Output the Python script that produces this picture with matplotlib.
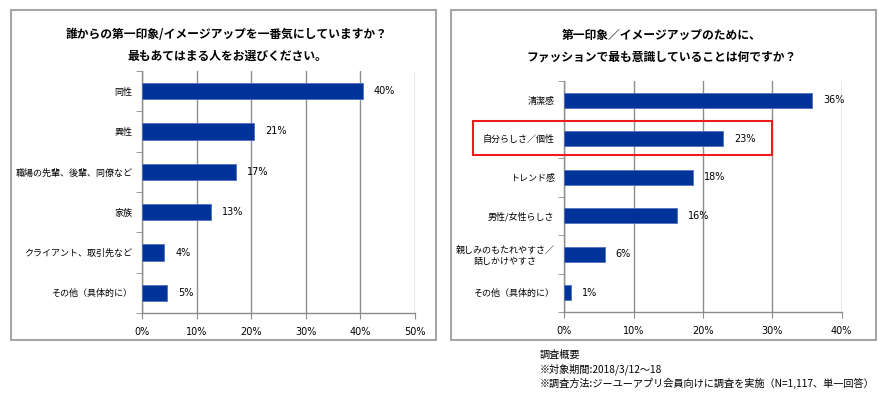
import matplotlib
matplotlib.use("Agg")
import matplotlib.pyplot as plt
from matplotlib.patches import Rectangle

plt.rcParams['font.family'] = ['Noto Sans CJK JP', 'DejaVu Sans']

# ---------------- data ----------------
left_title = "誰からの第一印象/イメージアップを一番気にしていますか？\n最もあてはまる人をお選びください。"
left_categories = ["同性", "異性", "職場の先輩、後輩、同僚など", "家族", "クライアント、取引先など", "その他（具体的に）"]
left_values = [40.4, 20.6, 17.2, 12.6, 4.1, 4.6]
left_labels = ["40%", "21%", "17%", "13%", "4%", "5%"]
left_ticks = [0, 10, 20, 30, 40, 50]

right_title = "第一印象／イメージアップのために、\nファッションで最も意識していることは何ですか？"
right_categories = ["清潔感", "自分らしさ／個性", "トレンド感", "男性/女性らしさ", "親しみのもたれやすさ／\n話しかけやすさ", "その他（具体的に）"]
right_values = [35.7, 22.9, 18.5, 16.2, 5.8, 0.9]
right_labels = ["36%", "23%", "18%", "16%", "6%", "1%"]
right_ticks = [0, 10, 20, 30, 40]

footer_lines = ["調査概要", "※対象期間:2018/3/12～18", "※調査方法:ジーユーアプリ会員向けに調査を実施（N=1,117、単一回答）"]

# ---------------- layout ----------------
W, H = 887, 395
fig = plt.figure(figsize=(W / 100, H / 100), dpi=100)
fig.patch.set_facecolor("white")

BAR = "#003399"
GRID = "#8c8c8c"


def px_rect(x0, y0, x1, y1):
    return [x0 / W, 1 - y1 / H, (x1 - x0) / W, (y1 - y0) / H]


def panel(rect, cats, vals, labels, ticks, bar_h, cat_fs):
    ax = fig.add_axes(rect)
    n = len(cats)
    ys = list(range(n))
    ax.barh(ys, vals, height=bar_h, color=BAR, edgecolor="#5570bb", linewidth=0.6, zorder=3)
    ax.set_ylim(n - 0.5, -0.5)
    ax.set_xlim(ticks[0], ticks[-1])
    ax.set_xticks(ticks)
    ax.set_xticklabels([f"{t}%" for t in ticks], fontsize=7, family=['DejaVu Sans'])
    ax.set_yticks(ys)
    ax.set_yticklabels(cats, fontsize=cat_fs, multialignment="center")
    ax.set_yticks([i - 0.5 for i in range(n + 1)], minor=True)
    ax.tick_params(axis="y", which="major", length=0, pad=7)
    ax.tick_params(axis="y", which="minor", length=4, color=GRID, direction="out")
    ax.tick_params(axis="x", length=4, color=GRID, pad=6)
    ax.grid(axis="x", color=GRID, linewidth=1.0, zorder=0)
    for s in ["top", "right"]:
        ax.spines[s].set_visible(False)
    for s in ["left", "bottom"]:
        ax.spines[s].set_color(GRID)
        ax.spines[s].set_linewidth(1.0)
    for y, v, lab in zip(ys, vals, labels):
        ax.annotate(lab, (v, y), xytext=(8, 0), textcoords="offset points",
                    va="center", ha="left", fontsize=7, family=['DejaVu Sans'])
    return ax


# panel borders
for x0, x1 in [(11, 436), (451, 876)]:
    fig.patches.append(Rectangle((x0 / W, 1 - 340 / H), (x1 - x0) / W, 330 / H,
                                 transform=fig.transFigure, fill=False,
                                 edgecolor="#a6a6a6", linewidth=1.5))

panel(px_rect(142, 71, 415, 313), left_categories, left_values, left_labels, left_ticks, 0.4, 6.5)
panel(px_rect(564.3, 81, 841.7, 312), right_categories, right_values, right_labels, right_ticks, 0.38, 6.5)

fig.text(227 / W, 1 - 45 / H, left_title, ha="center", va="center", fontsize=8.5,
         fontweight="bold", linespacing=1.9)
fig.text(662 / W, 1 - 46 / H, right_title, ha="center", va="center", fontsize=8.5,
         fontweight="bold", linespacing=1.9)

# highlight box
fig.patches.append(Rectangle((472.7 / W, 1 - 155 / H), (772 - 472.7) / W, (155 - 120.7) / H,
                             transform=fig.transFigure, fill=False,
                             edgecolor="#ee1c1c", linewidth=1.5))

for i, line in enumerate(footer_lines):
    fig.text(540 / W, 1 - (354.5 + i * 14.5) / H, line, ha="left", va="center", fontsize=7.3)

fig.savefig("out.png", dpi=100)
